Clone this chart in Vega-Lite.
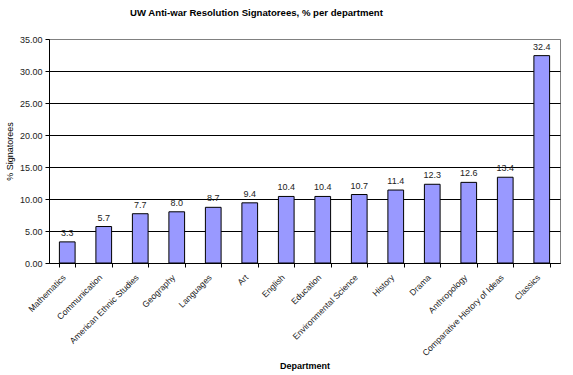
{
  "$schema": "https://vega.github.io/schema/vega-lite/v6.json",
  "width": 511,
  "height": 224,
  "autosize": {"type": "none"},
  "padding": {"left": 49, "top": 39, "right": 13, "bottom": 112},
  "background": "white",
  "config": {
    "font": "Liberation Sans",
    "view": {"stroke": "#808080", "strokeWidth": 1}
  },
  "title": {
    "text": "UW Anti-war Resolution Signatorees, % per department",
    "fontSize": 9.6,
    "fontWeight": "bold",
    "color": "black",
    "anchor": "middle",
    "dx": -48,
    "offset": 17
  },
  "data": {
    "values": [
      {"department": "Mathematics", "pct": 3.3},
      {"department": "Communication", "pct": 5.7},
      {"department": "American Ethnic Studies", "pct": 7.7},
      {"department": "Geography", "pct": 8.0},
      {"department": "Languages", "pct": 8.7},
      {"department": "Art", "pct": 9.4},
      {"department": "English", "pct": 10.4},
      {"department": "Education", "pct": 10.4},
      {"department": "Environmental Science", "pct": 10.7},
      {"department": "History", "pct": 11.4},
      {"department": "Drama", "pct": 12.3},
      {"department": "Anthropology", "pct": 12.6},
      {"department": "Comparative History of Ideas", "pct": 13.4},
      {"department": "Classics", "pct": 32.4}
    ]
  },
  "encoding": {
    "x": {
      "field": "department",
      "type": "nominal",
      "sort": null,
      "scale": {"paddingInner": 0.57, "paddingOuter": 0.285},
      "axis": {
        "title": "Department",
        "titleFontSize": 9,
        "titleFontWeight": "bold",
        "titleColor": "black",
        "titleY": 105,
        "titleBaseline": "alphabetic",
        "labelAngle": -45,
        "labelAlign": "right",
        "labelBaseline": "bottom",
        "labelFontSize": 8.6,
        "labelColor": "#222222",
        "labelPadding": 12,
        "tickBand": "extent",
        "tickColor": "black",
        "tickSize": 4,
        "domainColor": "black",
        "grid": false
      }
    },
    "y": {
      "field": "pct",
      "type": "quantitative",
      "scale": {"domain": [0, 35], "nice": false},
      "axis": {
        "title": "% Signatorees",
        "titleFontSize": 9,
        "titleFontWeight": "normal",
        "titleColor": "black",
        "titlePadding": 5,
        "values": [0, 5, 10, 15, 20, 25, 30, 35],
        "format": ".2f",
        "labelFontSize": 9,
        "labelColor": "#222222",
        "labelPadding": 3,
        "tickColor": "black",
        "tickSize": 4,
        "domainColor": "black",
        "grid": true,
        "gridColor": {"condition": {"test": "datum.value === 35", "value": "#808080"}, "value": "black"},
        "gridOpacity": 1
      }
    }
  },
  "layer": [
    {
      "mark": {"type": "bar", "color": "#9999ff", "stroke": "black", "strokeWidth": 1}
    },
    {
      "mark": {"type": "text", "baseline": "bottom", "dy": -4, "fontSize": 9, "color": "#222222"},
      "encoding": {
        "text": {"field": "pct", "type": "quantitative", "format": ".1f"}
      }
    }
  ]
}
